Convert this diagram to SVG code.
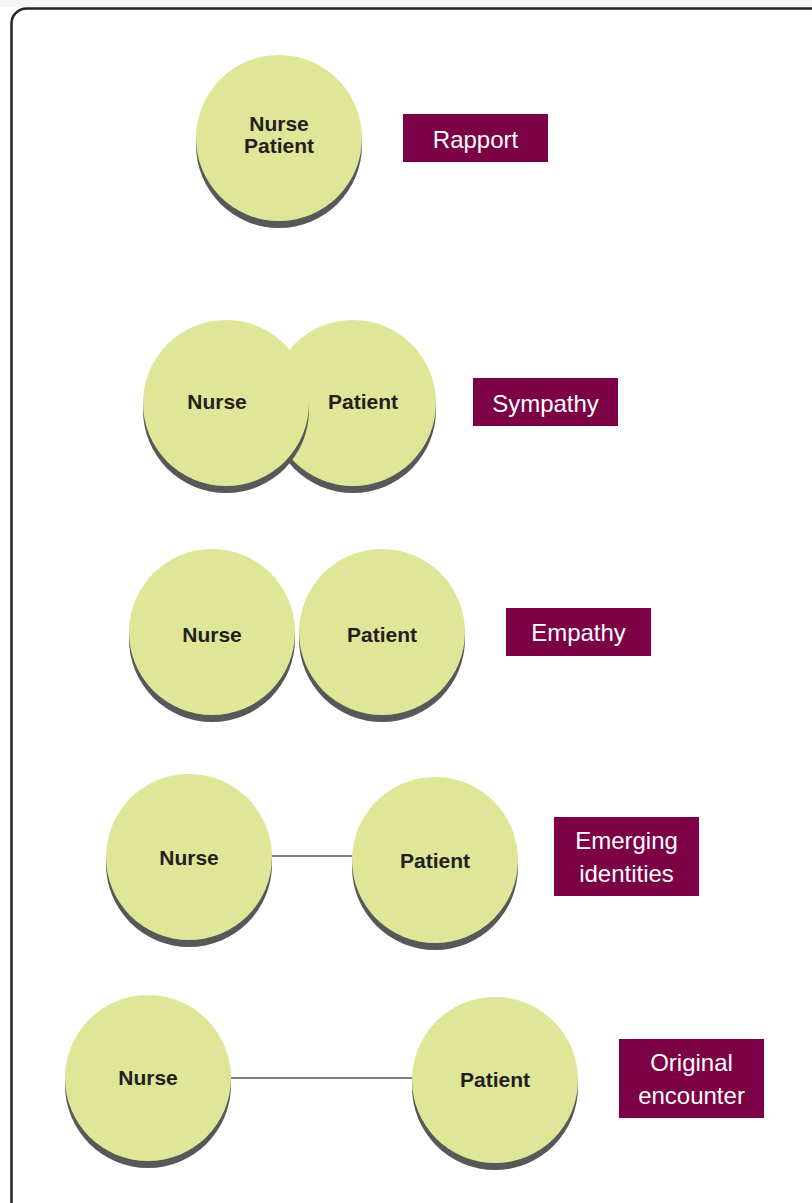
<svg xmlns="http://www.w3.org/2000/svg" width="812" height="1203" viewBox="0 0 812 1203">
  <style>
    .frame { fill: #ffffff; stroke: #222222; stroke-width: 2.5; }
    .disc { fill: #dfe697; }
    .shade { fill: #58585a; }
    .name { font-family: "Liberation Sans", Arial, sans-serif; font-weight: bold; font-size: 21px; fill: #231f20; text-anchor: middle; }
    .tag { fill: #7c0045; }
    .tagtext { font-family: "Liberation Sans", Arial, sans-serif; font-size: 24px; fill: #ffffff; text-anchor: middle; }
    .link { stroke: #555555; stroke-width: 1.5; fill: none; }
  </style>
  <defs>
    <g id="ball">
      <circle class="shade" cx="0" cy="7" r="83"/>
      <circle class="disc" cx="0" cy="0" r="83"/>
    </g>
  </defs>

  <rect x="0" y="0" width="812" height="1203" fill="#ffffff"/>
  <rect x="0" y="0" width="812" height="7" fill="#f4f5f9"/>
  <rect class="frame" x="11.5" y="8.5" width="820" height="1220" rx="15" ry="15"/>

  <!-- connectors -->
  <g id="connectors">
    <line class="link" x1="272" y1="856" x2="352" y2="856"/>
    <line class="link" x1="231" y1="1078" x2="412" y2="1078"/>
  </g>

  <!-- Rapport -->
  <g id="rapport-pair">
    <use href="#ball" x="279" y="138"/>
    <text class="name" x="279" y="131">Nurse</text>
    <text class="name" x="279" y="153">Patient</text>
  </g>
  <g id="rapport-label">
    <rect class="tag" x="403" y="114" width="145" height="48"/>
    <text class="tagtext" x="475.5" y="148">Rapport</text>
  </g>

  <!-- Sympathy -->
  <g id="sympathy-patient">
    <use href="#ball" x="353" y="403"/>
    <text class="name" x="363" y="409">Patient</text>
  </g>
  <g id="sympathy-nurse">
    <use href="#ball" x="226" y="403"/>
    <text class="name" x="217" y="409">Nurse</text>
  </g>
  <g id="sympathy-label">
    <rect class="tag" x="473" y="378" width="145" height="48"/>
    <text class="tagtext" x="545.5" y="412">Sympathy</text>
  </g>

  <!-- Empathy -->
  <g id="empathy-nurse">
    <use href="#ball" x="212" y="632"/>
    <text class="name" x="212" y="642">Nurse</text>
  </g>
  <g id="empathy-patient">
    <use href="#ball" x="382" y="632"/>
    <text class="name" x="382" y="642">Patient</text>
  </g>
  <g id="empathy-label">
    <rect class="tag" x="506" y="608" width="145" height="48"/>
    <text class="tagtext" x="578.5" y="641">Empathy</text>
  </g>

  <!-- Emerging identities -->
  <g id="emerging-nurse">
    <use href="#ball" x="189" y="857"/>
    <text class="name" x="189" y="865">Nurse</text>
  </g>
  <g id="emerging-patient">
    <use href="#ball" x="435" y="860"/>
    <text class="name" x="435" y="868">Patient</text>
  </g>
  <g id="emerging-label">
    <rect class="tag" x="554" y="817" width="145" height="79"/>
    <text class="tagtext" x="626.5" y="849">Emerging</text>
    <text class="tagtext" x="626.5" y="882">identities</text>
  </g>

  <!-- Original encounter -->
  <g id="original-nurse">
    <use href="#ball" x="148" y="1078"/>
    <text class="name" x="148" y="1085">Nurse</text>
  </g>
  <g id="original-patient">
    <use href="#ball" x="495" y="1080"/>
    <text class="name" x="495" y="1087">Patient</text>
  </g>
  <g id="original-label">
    <rect class="tag" x="619" y="1039" width="145" height="79"/>
    <text class="tagtext" x="691.5" y="1071">Original</text>
    <text class="tagtext" x="691.5" y="1104">encounter</text>
  </g>
</svg>
